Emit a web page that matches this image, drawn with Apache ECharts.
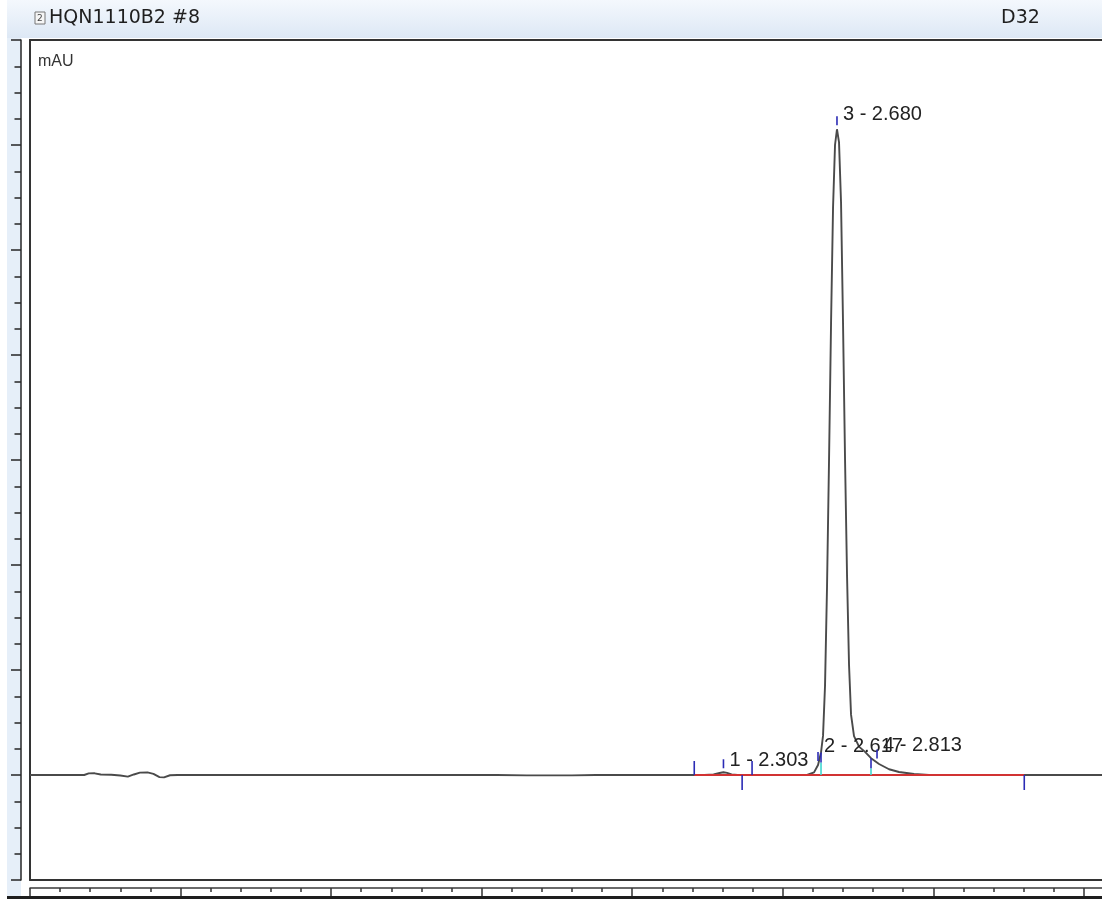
<!DOCTYPE html>
<html>
<head>
<meta charset="utf-8">
<script src="https://cdn.jsdelivr.net/npm/echarts@6/dist/echarts.min.js"></script>
<style>
html, body { margin: 0; padding: 0; background: #ffffff; overflow: hidden; }
/* the time window runs a little past the right edge of the page */
#chart { width: 1114px; height: 899px; }
</style>
</head>
<body>
<div id="chart"></div>
<script>
// Detector trace: retention time (min) and absorbance (mAU)
const traceTime = [
  0.000, 0.180, 0.195, 0.215, 0.235, 0.270, 0.300, 0.325, 0.345, 0.365,
  0.390, 0.410, 0.430, 0.445, 0.465, 0.490, 1.550, 1.650, 1.800, 1.880,
  2.240, 2.270, 2.290, 2.303, 2.315, 2.330, 2.350, 2.5805, 2.6038, 2.6171,
  2.6270, 2.6337, 2.6403, 2.6470, 2.6536, 2.6603, 2.6669, 2.6735, 2.6800, 2.6868,
  2.6935, 2.7001, 2.7068, 2.7134, 2.7200, 2.7267, 2.7366, 2.7532, 2.7732, 2.7931,
  2.8197, 2.8529, 2.8861, 2.9359, 2.9857, 3.600
];
const traceMAU = [
  0, 0, 0.30, 0.32, 0.10, 0.04, -0.10, -0.32, 0.10, 0.45,
  0.50, 0.20, -0.40, -0.45, -0.05, 0, 0, -0.08, -0.08, 0,
  0, 0.12, 0.38, 0.52, 0.40, 0.12, 0, 0, 0.5, 1.9,
  4.3, 7.5, 17, 36, 60, 86, 108, 120, 123, 120.5,
  109, 86, 60, 38, 21, 11.5, 7.4, 5.4, 4.4, 3.2,
  2.1, 1.1, 0.57, 0.19, 0, 0
];

// Integrated peaks
const peakNumbers = [1, 2, 3, 4];
const peakTimes = [2.303, 2.617, 2.680, 2.813];
const peakHeights = [0.52, 1.9, 123.0, 2.4];

// Integration baseline (mAU) between its start and end times
const baselineTimes = [2.206, 3.302];
const baselineMAU = [0, 0];

// Delimiter marks on the baseline (1 = above, -1 = below)
const delimiterTimes = [2.206, 2.365, 2.398, 3.302];
const delimiterSides = [1, -1, 1, -1];

// Perpendicular drops between fused peaks, with the trace height there
const dropTimes = [2.627, 2.793];
const dropHeights = [4.3, 3.2];

// Axis ranges
const timeRange = [0, 3.6];
const mauRange = [-20, 140];

// ---- build series data ----
const traceData = traceTime.map((t, i) => [t, traceMAU[i]]);
const baselineData = baselineTimes.map((t, i) => [t, baselineMAU[i]]);
const peakData = peakTimes.map((t, i) => [t, peakHeights[i], peakNumbers[i]]);
const delimiterData = delimiterTimes.map((t, i) => [t, delimiterSides[i]]);
const dropData = dropTimes.map((t, i) => [t, dropHeights[i]]);

// label lift above the trace, in px, per peak
const labelLift = [12, 19, 15, 17];

const markBlue = '#2b2bb5';
const dropCyan = '#3fd6d0';
const labelFont = '20px "Liberation Sans", Arial, sans-serif';

const chart = echarts.init(document.getElementById('chart'), null, { renderer: 'canvas' });

const hiddenBits = {
  axisLabel: { show: false },
  splitLine: { show: false },
  axisTick: { show: false }
};

chart.setOption({
  animation: false,
  backgroundColor: '#ffffff',
  grid: { left: 30, top: 40, right: 0, bottom: 19, containLabel: false },
  xAxis: [
    Object.assign({
      type: 'value', min: timeRange[0], max: timeRange[1], position: 'bottom',
      axisLine: { show: true, onZero: false, lineStyle: { color: '#333', width: 2 } }
    }, hiddenBits),
    {
      type: 'value', min: timeRange[0], max: timeRange[1], interval: 0.5, position: 'bottom', offset: 8,
      axisLine: { show: true, onZero: false, lineStyle: { color: '#3a3a3a', width: 1.5 } },
      axisTick: { show: true, length: 8, lineStyle: { color: '#333', width: 1.5 } },
      minorTick: { show: true, splitNumber: 5, length: 4, lineStyle: { color: '#333', width: 1.5 } },
      axisLabel: { show: false },
      splitLine: { show: false }
    },
    Object.assign({
      type: 'value', min: timeRange[0], max: timeRange[1], position: 'top',
      axisLine: { show: true, onZero: false, lineStyle: { color: '#333', width: 2 } }
    }, hiddenBits)
  ],
  yAxis: [
    Object.assign({
      type: 'value', min: mauRange[0], max: mauRange[1], position: 'left',
      axisLine: { show: true, onZero: false, lineStyle: { color: '#333', width: 2 } }
    }, hiddenBits),
    {
      type: 'value', min: mauRange[0], max: mauRange[1], interval: 20, position: 'left', offset: 9,
      axisLine: { show: true, onZero: false, lineStyle: { color: '#262626', width: 1.5 } },
      axisTick: { show: true, length: 10, lineStyle: { color: '#262626', width: 1.5 } },
      minorTick: { show: true, splitNumber: 4, length: 6.5, lineStyle: { color: '#262626', width: 1.5 } },
      axisLabel: { show: false },
      splitLine: { show: false }
    }
  ],
  graphic: [
    {
      type: 'rect', z: -10, silent: true,
      shape: { x: 7, y: 0, width: 1107, height: 38 },
      style: {
        fill: new echarts.graphic.LinearGradient(0, 0, 0, 1, [
          { offset: 0, color: '#f4f8fd' },
          { offset: 1, color: '#dde8f5' }
        ])
      }
    },
    {
      type: 'rect', z: -10, silent: true,
      shape: { x: 7, y: 38, width: 14, height: 858 },
      style: { fill: '#e6eff9' }
    },
    {
      type: 'rect', z: 10, silent: true,
      shape: { x: 7, y: 896, width: 1107, height: 3 },
      style: { fill: '#1e1e1e' }
    },
    {
      type: 'rect', z: 10, silent: true,
      shape: { x: 35, y: 12, width: 10, height: 12 },
      style: { fill: '#f6f6f6', stroke: '#777', lineWidth: 1 }
    },
    {
      type: 'text', z: 10, silent: true, x: 37, y: 18.5,
      style: { text: '2', fill: '#444', font: '9px "DejaVu Sans", sans-serif', verticalAlign: 'middle' }
    },
    {
      type: 'text', z: 10, silent: true, x: 49, y: 18,
      style: { text: 'HQN1110B2 #8', fill: '#1f1f1f', font: '19px "DejaVu Sans", sans-serif', verticalAlign: 'middle' }
    },
    {
      type: 'text', z: 10, silent: true, x: 1001, y: 18,
      style: { text: 'D32', fill: '#1f1f1f', font: '19px "DejaVu Sans", sans-serif', verticalAlign: 'middle' }
    },
    {
      type: 'text', z: 10, silent: true, x: 38, y: 62,
      style: { text: 'mAU', fill: '#333', font: '16px "Liberation Sans", Arial, sans-serif', verticalAlign: 'middle' }
    }
  ],
  series: [
    {
      name: 'trace',
      type: 'line',
      xAxisIndex: 0, yAxisIndex: 0,
      data: traceData,
      showSymbol: false,
      smooth: false,
      lineStyle: { color: '#4a4a4a', width: 1.9 },
      z: 2
    },
    {
      name: 'baseline',
      type: 'line',
      xAxisIndex: 0, yAxisIndex: 0,
      data: baselineData,
      showSymbol: false,
      lineStyle: { color: '#d13232', width: 2 },
      z: 3
    },
    {
      name: 'drops',
      type: 'custom',
      xAxisIndex: 0, yAxisIndex: 0,
      data: dropData,
      z: 4,
      renderItem: function (params, api) {
        const base = api.coord([api.value(0), 0]);
        const top = api.coord([api.value(0), api.value(1)]);
        return {
          type: 'group',
          children: [
            { type: 'line', shape: { x1: base[0], y1: base[1], x2: top[0], y2: top[1] + 10 },
              style: { stroke: dropCyan, lineWidth: 1.6 } },
            { type: 'line', shape: { x1: top[0], y1: top[1], x2: top[0], y2: top[1] + 10 },
              style: { stroke: markBlue, lineWidth: 1.6 } }
          ]
        };
      }
    },
    {
      name: 'delimiters',
      type: 'custom',
      xAxisIndex: 0, yAxisIndex: 0,
      data: delimiterData,
      z: 4,
      renderItem: function (params, api) {
        const p = api.coord([api.value(0), 0]);
        const side = api.value(1);
        const len = side > 0 ? 14 : 15;
        return {
          type: 'line',
          shape: { x1: p[0], y1: p[1], x2: p[0], y2: p[1] - side * len },
          style: { stroke: markBlue, lineWidth: 1.6 }
        };
      }
    },
    {
      name: 'peaks',
      type: 'custom',
      xAxisIndex: 0, yAxisIndex: 0,
      data: peakData,
      z: 5,
      clip: false,
      renderItem: function (params, api) {
        const t = api.value(0);
        const p = api.coord([t, api.value(1)]);
        const num = api.value(2);
        const lift = labelLift[params.dataIndex];
        return {
          type: 'group',
          children: [
            { type: 'line', shape: { x1: p[0], y1: p[1] - 4, x2: p[0], y2: p[1] - 13 },
              style: { stroke: markBlue, lineWidth: 1.6 } },
            { type: 'text', x: p[0] + 6, y: p[1] - lift,
              style: { text: num + ' - ' + t.toFixed(3), fill: '#222', font: labelFont,
                       align: 'left', verticalAlign: 'middle' } }
          ]
        };
      }
    }
  ]
});
</script>
</body>
</html>
